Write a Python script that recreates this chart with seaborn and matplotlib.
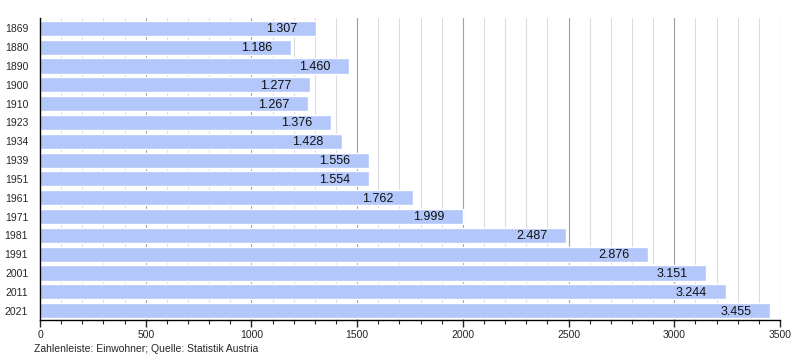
import matplotlib
matplotlib.use('Agg')
import matplotlib.pyplot as plt
from matplotlib.ticker import MultipleLocator
import seaborn as sns
import pandas as pd

years = ['1869', '1880', '1890', '1900', '1910', '1923', '1934', '1939',
         '1951', '1961', '1971', '1981', '1991', '2001', '2011', '2021']
population = [1307, 1186, 1460, 1277, 1267, 1376, 1428, 1556,
              1554, 1762, 1999, 2487, 2876, 3151, 3244, 3455]
source_note = 'Zahlenleiste: Einwohner; Quelle: Statistik Austria'

df = pd.DataFrame({'year': years, 'pop': population})

sns.set_style('white')
plt.rcParams['font.family'] = ['Liberation Sans', 'DejaVu Sans']

fig = plt.figure(figsize=(8, 3.6), dpi=100)
ax = fig.add_axes([0.05, 0.111, 0.925, 0.839])

sns.barplot(data=df, x='pop', y='year', orient='h', color='#b3c7fa',
            saturation=1, width=0.8, ax=ax, zorder=2)

for i, v in enumerate(population):
    lbl = f'{v:,}'.replace(',', '.')
    ax.text(v - 88, i + 0.05, lbl, ha='right', va='center', fontsize=9,
            color='#111111', zorder=3)

ax.set_xlim(0, 3500)
ax.set_ylim(len(years) - 0.5, -0.55)
ax.xaxis.set_major_locator(MultipleLocator(500))
ax.xaxis.set_minor_locator(MultipleLocator(100))
ax.grid(which='major', axis='x', color='#a0a0a0', lw=0.8, zorder=0)
ax.grid(which='minor', axis='x', color='#dddddd', lw=0.8, zorder=0)
ax.set_axisbelow(True)

for s in ['top', 'right']:
    ax.spines[s].set_visible(False)
ax.spines['left'].set_color('black')
ax.spines['bottom'].set_color('black')
ax.spines['left'].set_linewidth(1)
ax.spines['bottom'].set_linewidth(1)

ax.tick_params(axis='x', which='major', bottom=True, length=5, width=1,
               labelsize=7.5, pad=2)
ax.tick_params(axis='x', which='minor', bottom=True, length=3, width=0.8)
ax.tick_params(axis='y', left=False, labelsize=7.5, pad=5)
ax.set_xlabel('')
ax.set_ylabel('')

fig.text(0.043, 0.016, source_note, fontsize=7.5, ha='left', va='bottom')

fig.savefig('out.png', dpi=100)
